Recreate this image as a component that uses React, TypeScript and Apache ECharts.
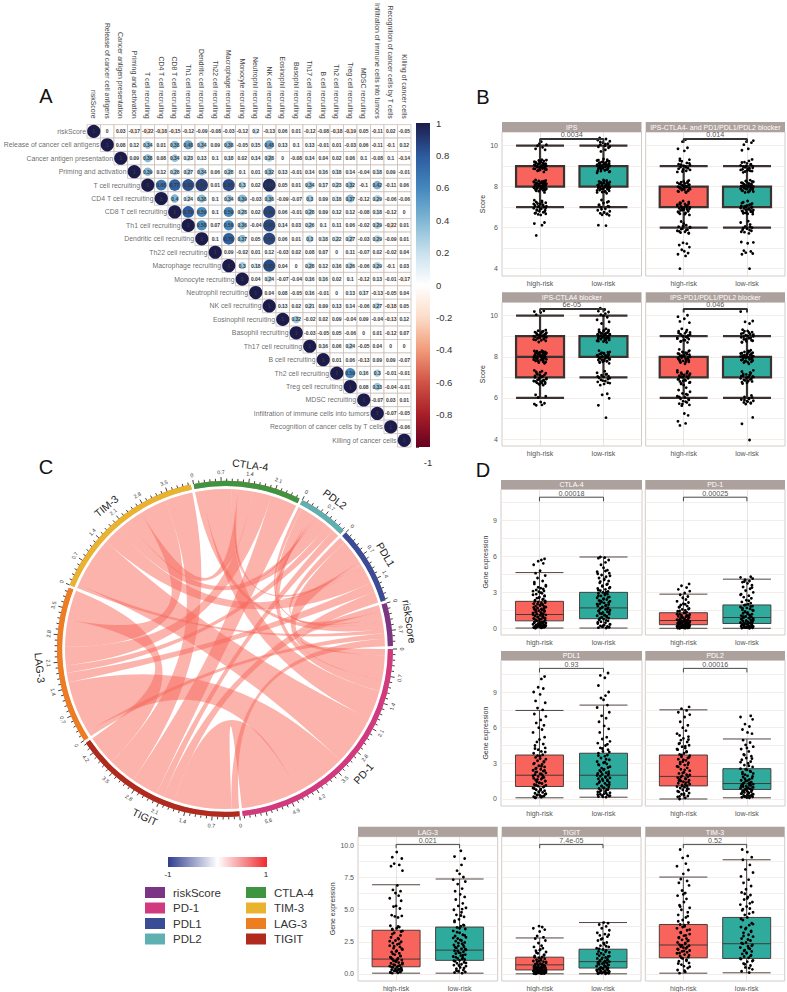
import React, { useEffect, useRef } from "react";
import * as echarts from "echarts";

const FONT = "Liberation Sans";

// ---------- Panel A ----------
const corrLabels = ["riskScore","Release of cancer cell antigens","Cancer antigen presentation","Priming and activation","T cell recruiting","CD4 T cell recruiting","CD8 T cell recruiting","Th1 cell recruiting","Dendritic cell recruiting","Th22 cell recruiting","Macrophage recruiting","Monocyte recruiting","Neutrophil recruiting","NK cell recruiting","Eosinophil recruiting","Basophil recruiting","Th17 cell recruiting","B cell recruiting","Th2 cell recruiting","Treg cell recruiting","MDSC recruiting","Infiltration of immune cells into tumors","Recognition of cancer cells by T cells","Killing of cancer cells"];
const corrRows: number[][] = [
  [1,0,0.03,-0.17,-0.22,-0.18,-0.15,-0.12,-0.09,-0.08,-0.03,-0.12,0.2,-0.13,0.06,0.01,-0.12,-0.08,-0.18,-0.19,0.05,-0.11,0.02,-0.05],
  [1,0.08,0.12,0.34,0.01,0.38,0.48,0.34,0.09,0.38,-0.05,0.15,0.48,0.13,0.1,0.13,-0.01,0.01,-0.03,0.06,-0.11,-0.1,0.12],
  [1,0.09,0.38,0.08,0.34,0.23,0.13,0.1,0.18,0.02,0.14,0.28,0,-0.08,0.14,0.04,0.02,0.06,0.1,-0.08,0.1,-0.14],
  [1,0.39,0.12,0.28,0.27,0.34,0.06,0.28,0.1,0.01,0.32,0.13,-0.01,0.14,0.16,0.18,0.14,-0.04,0.18,0.09,-0.01],
  [1,0.68,0.77,0.83,0.89,0.01,0.85,0.3,0.02,0.95,0.05,0.01,0.34,0.17,0.23,0.32,-0.1,0.42,-0.11,0.06],
  [1,0.4,0.24,0.38,0.1,0.34,0.39,-0.03,0.36,-0.09,-0.07,0.3,0.09,0.18,0.37,-0.12,0.29,-0.06,-0.06],
  [1,0.79,0.59,0.1,0.59,0.28,0.02,0.86,0.06,-0.01,0.28,0.09,0.12,0.12,-0.08,0.18,-0.12,0],
  [1,0.58,0.07,0.59,0.36,-0.04,0.86,0.14,0.03,0.26,0.1,0.11,0.06,-0.02,0.29,-0.22,0.01],
  [1,0.1,0.78,0.37,0.05,0.86,0.06,0.01,0.3,0.18,0.22,0.27,-0.03,0.29,-0.09,0.01],
  [1,0.09,-0.02,0.01,0.12,-0.03,0.02,0.08,0.07,0,0.11,-0.07,0.02,-0.02,0.04],
  [1,0.3,0.18,0.85,0.04,0,0.28,0.12,0.16,0.26,-0.06,0.29,-0.1,0.03],
  [1,0.04,0.24,-0.07,-0.04,0.16,0.16,0.02,0.1,-0.12,0.13,-0.01,-0.17],
  [1,0.04,0.08,-0.05,0.16,-0.01,0,0.13,0.17,-0.13,-0.05,0.04],
  [1,0.13,0.02,0.21,0.09,0.13,0.14,-0.06,0.27,-0.18,0.05],
  [1,0.32,-0.02,0.02,0.09,-0.04,0.09,-0.04,-0.13,0.12],
  [1,-0.03,-0.05,0.05,-0.06,0,0.01,-0.12,0.07],
  [1,0.16,0.06,0.24,-0.05,0.04,0,0],
  [1,0.01,0.06,-0.13,0.09,0.09,-0.07],
  [1,0.59,0.16,0.3,-0.01,-0.01],
  [1,0.08,0.33,-0.04,-0.01],
  [1,-0.07,0.03,0.01],
  [1,-0.07,-0.05],
  [1,-0.06],
  [1],
];
const corrStops: [number, number[]][] = [
  [-1,[103,0,31]],[-0.8,[168,30,40]],[-0.6,[208,84,70]],[-0.4,[241,155,122]],[-0.2,[252,220,200]],[0,[255,255,255]],
  [0.2,[200,225,237]],[0.4,[128,182,212]],[0.6,[68,135,190]],[0.8,[44,90,158]],[1,[28,28,76]],
];
function corrColor(v: number) {
  for (let i = 1; i < corrStops.length; i++) {
    if (v <= corrStops[i][0]) {
      const [a, ca] = corrStops[i - 1], [b, cb] = corrStops[i];
      const t = (v - a) / (b - a);
      return `rgb(${ca.map((c, k) => Math.round(c + (cb[k] - c) * t)).join(",")})`;
    }
  }
  return "rgb(28,28,76)";
}

// ---------- Panel C ----------
const chordNodes = ["PD-1","TIGIT","LAG-3","TIM-3","CTLA-4","PDL2","PDL1","riskScore"];
const chordColors = ["#d23a80","#b02a1e","#ee7d22","#e8b32f","#3f9440","#5fb0b0","#3a4c96","#7b3585"];
const chordLinks: [string, string, number][] = [
  ["riskScore","PD-1",0.18],["riskScore","PDL1",0.17],["riskScore","PDL2",0.1],["riskScore","CTLA-4",0.2],["riskScore","TIM-3",0.1],["riskScore","LAG-3",0.15],["riskScore","TIGIT",0.2],
  ["PD-1","PDL1",0.65],["PD-1","PDL2",0.3],["PD-1","CTLA-4",0.77],["PD-1","TIM-3",1.35],["PD-1","LAG-3",1.4],["PD-1","TIGIT",1.55],
  ["PDL1","PDL2",0.08],["PDL1","CTLA-4",0.1],["PDL1","TIM-3",0.45],["PDL1","LAG-3",0.25],["PDL1","TIGIT",0.3],
  ["PDL2","CTLA-4",0.07],["PDL2","TIM-3",0.35],["PDL2","LAG-3",0.2],["PDL2","TIGIT",0.2],
  ["CTLA-4","TIM-3",0.4],["CTLA-4","LAG-3",0.5],["CTLA-4","TIGIT",0.71],
  ["TIM-3","LAG-3",0.72],["TIM-3","TIGIT",0.75],["LAG-3","TIGIT",0.8],
];
const legendRows = [["riskScore","#7b3585"],["PD-1","#d23a80"],["PDL1","#3a4c96"],["PDL2","#5fb0b0"],["CTLA-4","#3f9440"],["TIM-3","#e8b32f"],["LAG-3","#ee7d22"],["TIGIT","#b02a1e"]];

// ---------- Jitter offsets, read loosely from the clouds ----------
const jitterA = [-0.06,0.03,-0.09,0.07,0.01,-0.03,0.09,-0.07,0.05,-0.01,0.08,-0.05,0.02,-0.1,0.06,-0.02,0.1,-0.08,0.04,0,-0.04,0.09,-0.06,0.03,-0.09,0.07,-0.02,0.05,-0.07,0.01,0.1,-0.04,0.06,-0.1,0.02,-0.05,0.08,-0.01,0.04,-0.08,0.07,-0.03,0.1,-0.06,0.01,0.05,-0.09,0.03,-0.02,0.09,-0.07,0.06,-0.04,0,0.08,-0.1,0.04,-0.01,0.07,-0.05,0.02,0.1,-0.08,0.05,-0.03,0.09,-0.06,0.01,-0.09,0.06,-0.02,0.03,0.08,-0.07,0.04,-0.04,0.1,-0.01,0.02,-0.08,0.07,-0.05,0,0.09,-0.03,0.05,-0.1,0.03,-0.06,0.08];
const jitterB = [0.04,-0.08,0.09,-0.02,0.06,-0.05,0.01,0.1,-0.09,0.03,-0.04,0.07,-0.07,0,0.08,-0.03,0.05,-0.1,0.02,0.09,-0.06,-0.01,0.06,-0.08,0.1,0.03,-0.05,0.07,-0.02,-0.09,0.04,0.08,-0.06,0.01,-0.03,0.1,-0.07,0.05,0,-0.1,0.09,-0.04,0.02,0.06,-0.08,-0.01,0.07,-0.05,0.03,-0.09,0.1,-0.02,0.05,-0.06,0.08,0.01,-0.07,0.04,-0.03,0.09,-0.1,0.06,0,-0.04,0.03,0.08,-0.08,0.02,-0.05,0.07,-0.01,0.1,-0.09,0.04,-0.06,0.05,0.01,-0.03,0.09,-0.07,0.06,-0.02,0.03,-0.1,0.08,-0.04,0,0.07,-0.08,0.02];

// ---------- Panel B points ----------
const ipsHigh = [5.62,6.12,6.2,6.25,6.62,6.65,6.68,6.72,6.75,6.8,6.85,6.88,6.92,6.95,7.0,7.02,7.05,7.08,7.12,7.15,7.18,7.22,7.25,7.3,7.34,7.72,7.78,7.82,7.85,7.88,7.9,7.92,7.95,7.97,7.98,8,8.02,8.04,8.06,8.08,8.1,8.12,8.14,8.16,8.18,8.2,8.22,8.25,8.28,8.3,8.33,8.72,8.78,8.82,8.85,8.88,8.9,8.92,8.95,8.97,9,9.02,9.05,9.08,9.1,9.12,9.15,9.18,9.22,9.25,9.28,9.32,9.8,9.85,9.92,10,10.05,10.1,10.2,
  6.7,6.78,6.84,6.9,6.97,7.03,7.1,7.16,7.24,7.8,7.84,7.87,7.91,7.94,7.99,8.01,8.03,8.07,8.09,8.11,8.13,8.17,8.19,8.21,8.24,8.27,8.8,8.84,8.87,8.91,8.94,8.96,8.99,9.01,9.04,9.07,9.09,9.13,9.16,9.2,9.24,9.3];
const ipsLow = [6.1,6.12,6.6,6.63,6.68,6.7,6.74,6.8,6.85,6.92,7,7.05,7.12,7.2,7.28,7.35,7.68,7.72,7.76,7.8,7.84,7.88,7.9,7.93,7.96,7.98,8,8.03,8.05,8.08,8.1,8.13,8.16,8.18,8.2,8.23,8.26,8.3,8.33,8.68,8.72,8.76,8.8,8.84,8.87,8.9,8.92,8.95,8.97,9,9.02,9.04,9.06,9.08,9.1,9.12,9.15,9.18,9.2,9.24,9.28,9.32,9.35,9.72,9.8,9.9,9.95,10,10.05,10.1,10.15,10.22,10.28,10.33,10.38,
  6.66,6.76,6.9,7.02,7.1,7.24,7.74,7.78,7.82,7.86,7.89,7.92,7.95,7.99,8.01,8.04,8.07,8.11,8.14,8.19,8.22,8.27,8.74,8.78,8.82,8.86,8.89,8.93,8.96,8.99,9.01,9.03,9.07,9.11,9.14,9.17,9.22,9.26,9.3,9.96,10.08,10.18];
const dualHigh = [4,4.62,4.7,4.76,4.85,4.92,5.05,5.15,5.22,5.26,5.72,5.76,5.8,5.85,5.9,5.95,6,6.05,6.12,6.2,6.3,6.62,6.68,6.72,6.78,6.82,6.86,6.9,6.94,6.98,7,7.04,7.08,7.12,7.16,7.2,7.25,7.3,7.72,7.76,7.8,7.84,7.88,7.92,7.95,7.98,8,8.03,8.06,8.1,8.14,8.18,8.22,8.26,8.3,8.72,8.78,8.84,8.9,8.96,9,9.05,9.1,9.16,9.24,9.32,9.36,9.75,9.85,9.9,10.2,10.3,
  5.74,5.82,5.88,5.93,6.03,6.08,6.66,6.74,6.8,6.84,6.88,6.92,6.96,7.02,7.06,7.1,7.14,7.18,7.22,7.74,7.78,7.82,7.86,7.9,7.94,7.97,8.01,8.05,8.08,8.12,8.16,8.2,8.24,8.74,8.82,8.88,8.94,9.02,9.08,9.14,9.28];
const dualLow = [4,4.7,4.74,4.78,4.84,4.88,5.24,5.28,5.3,5.72,5.78,5.85,5.9,5.95,6,6.06,6.15,6.25,6.32,6.66,6.7,6.74,6.78,6.82,6.86,6.9,6.94,6.98,7.02,7.06,7.12,7.18,7.24,7.3,7.72,7.76,7.8,7.84,7.88,7.9,7.93,7.96,7.98,8,8.02,8.05,8.08,8.12,8.16,8.2,8.24,8.28,8.32,8.7,8.76,8.8,8.85,8.9,8.95,9,9.04,9.08,9.14,9.2,9.26,9.33,9.78,9.85,10.05,10.15,10.2,10.25,
  5.8,5.88,5.98,6.04,6.68,6.72,6.76,6.8,6.84,6.88,6.92,6.96,7,7.04,7.08,7.14,7.2,7.74,7.78,7.82,7.86,7.89,7.92,7.95,7.99,8.01,8.03,8.06,8.1,8.14,8.18,8.22,8.26,8.74,8.78,8.82,8.88,8.92,8.98,9.02,9.1,9.18];
const ctlaBlockHigh = [5.64,5.66,5.7,5.74,5.8,6.02,6.08,6.15,6.62,6.66,6.7,6.74,6.78,6.82,6.86,6.9,6.95,7,7.05,7.1,7.14,7.2,7.26,7.3,7.34,7.68,7.72,7.76,7.8,7.84,7.88,7.9,7.93,7.96,7.98,8,8.02,8.04,8.07,8.1,8.12,8.15,8.18,8.2,8.22,8.25,8.28,8.3,8.72,8.78,8.82,8.86,8.9,8.93,8.96,9,9.02,9.05,9.08,9.1,9.14,9.17,9.2,9.24,9.27,9.3,10.05,10.15,10.2,10.24,
  6.68,6.72,6.76,6.8,6.84,6.88,6.92,6.97,7.02,7.07,7.12,7.18,7.24,7.74,7.78,7.82,7.86,7.89,7.92,7.95,7.99,8.01,8.03,8.05,8.08,8.11,8.14,8.17,8.19,8.21,8.24,8.27,8.8,8.84,8.88,8.92,8.95,8.98,9.01,9.04,9.07,9.12,9.16,9.22];
const ctlaBlockLow = [5.04,5.64,5.98,6.15,6.2,6.62,6.68,6.72,6.78,6.82,6.88,6.92,6.98,7.02,7.06,7.1,7.16,7.22,7.3,7.68,7.72,7.76,7.8,7.84,7.88,7.92,7.95,7.98,8,8.03,8.06,8.1,8.13,8.16,8.2,8.24,8.3,8.7,8.74,8.78,8.82,8.86,8.9,8.92,8.95,8.98,9,9.03,9.06,9.08,9.1,9.13,9.16,9.2,9.24,9.28,9.32,9.36,9.62,9.7,9.8,9.92,10,10.05,10.1,10.18,10.22,10.3,10.36,
  6.74,6.84,6.96,7.04,7.14,7.74,7.78,7.82,7.86,7.9,7.94,7.97,8.01,8.04,8.08,8.12,8.15,8.18,8.22,8.76,8.8,8.84,8.88,8.91,8.94,8.97,9.01,9.04,9.07,9.09,9.12,9.15,9.18,9.22,9.26,9.3];
const pdBlockHigh = [4.66,4.76,4.86,5.15,5.24,5.62,5.66,5.72,5.78,5.84,5.9,5.96,6.02,6.08,6.15,6.22,6.3,6.38,6.5,6.62,6.68,6.74,6.8,6.85,6.9,6.95,7,7.04,7.08,7.12,7.18,7.22,7.28,7.34,7.66,7.72,7.76,7.8,7.84,7.88,7.92,7.96,8,8.04,8.08,8.12,8.16,8.2,8.24,8.3,8.36,8.7,8.76,8.82,8.86,8.92,8.96,9,9.04,9.1,9.14,9.18,9.24,9.3,9.36,9.66,9.72,9.85,9.95,10.02,
  5.7,5.82,5.94,6.05,6.18,6.7,6.76,6.82,6.88,6.92,6.98,7.02,7.06,7.1,7.15,7.2,7.25,7.74,7.78,7.82,7.86,7.9,7.94,7.98,8.02,8.06,8.1,8.14,8.18,8.22,8.27,8.74,8.8,8.88,8.94,9.02,9.08,9.16,9.22];
const pdBlockLow = [3.95,4.74,5.05,5.7,5.74,5.78,5.82,5.86,5.92,5.98,6.05,6.12,6.7,6.74,6.8,6.85,6.9,6.95,7,7.04,7.08,7.14,7.2,7.28,7.34,7.66,7.72,7.76,7.8,7.84,7.88,7.92,7.95,7.98,8,8.03,8.06,8.1,8.13,8.16,8.2,8.24,8.28,8.32,8.7,8.75,8.8,8.85,8.9,8.95,9,9.05,9.1,9.15,9.2,9.26,9.32,9.62,9.7,9.74,10.2,
  5.76,5.84,5.9,5.95,6.02,6.76,6.82,6.88,6.93,6.98,7.02,7.06,7.1,7.16,7.24,7.74,7.78,7.82,7.86,7.9,7.94,7.97,8.01,8.04,8.08,8.11,8.15,8.18,8.22,8.26,8.72,8.78,8.84,8.92,8.98,9.03,9.08,9.12,9.18,9.24];

// ---------- Panel D points ----------
const ctla4High = [0.02,0.04,0.06,0.08,0.1,0.12,0.14,0.16,0.2,0.22,0.25,0.28,0.3,0.34,0.38,0.4,0.45,0.5,0.52,0.58,0.62,0.68,0.72,0.78,0.82,0.88,0.92,0.98,1.02,1.08,1.12,1.18,1.22,1.28,1.32,1.38,1.42,1.48,1.52,1.58,1.65,1.7,1.78,1.85,1.9,1.98,2.05,2.12,2.2,2.28,2.35,2.45,2.52,2.6,2.72,2.8,2.92,3.05,3.12,3.2,3.35,3.5,3.7,3.95,4.2,4.4,4.6,4.8,5.3,5.42,5.6,5.7,5.8,
  0.03,0.09,0.15,0.24,0.32,0.42,0.48,0.55,0.65,0.75,0.85,0.95,1.05,1.15,1.25,1.35,1.45,1.55,1.62,1.74,1.82,1.95,2.02,2.15,2.25,2.4,2.55,2.68,2.85,2.98,3.1,3.28,3.42,3.6,3.85];
const ctla4Low = [0.02,0.05,0.08,0.12,0.16,0.2,0.26,0.32,0.4,0.46,0.55,0.62,0.7,0.78,0.85,0.92,1.0,1.05,1.12,1.18,1.25,1.32,1.38,1.45,1.52,1.58,1.65,1.72,1.78,1.85,1.92,1.98,2.05,2.12,2.18,2.25,2.32,2.4,2.48,2.55,2.62,2.7,2.78,2.85,2.92,3.0,3.08,3.15,3.25,3.32,3.42,3.55,3.65,3.8,3.95,4.05,4.2,4.3,4.45,4.6,4.72,4.85,5.05,5.3,5.5,5.7,5.85,5.9,5.95,
  0.1,0.22,0.35,0.5,0.66,0.82,0.95,1.08,1.22,1.35,1.48,1.6,1.75,1.88,2.02,2.15,2.28,2.42,2.58,2.72,2.88,3.02,3.18,3.35,3.5,3.7,3.9,4.12,4.38,4.55,4.78];
const pd1High = [0,0.01,0.02,0.03,0.04,0.05,0.06,0.08,0.09,0.1,0.12,0.14,0.15,0.17,0.19,0.2,0.22,0.25,0.27,0.3,0.32,0.35,0.38,0.4,0.42,0.45,0.48,0.5,0.54,0.58,0.6,0.64,0.68,0.72,0.76,0.8,0.85,0.9,0.95,1,1.05,1.1,1.15,1.2,1.28,1.35,1.42,1.5,1.58,1.65,1.75,1.85,1.95,2.05,2.15,2.25,2.4,2.55,2.65,2.8,2.95,3.1,3.25,3.4,3.55,3.7,
  0.03,0.07,0.11,0.16,0.21,0.26,0.31,0.36,0.41,0.46,0.52,0.56,0.62,0.66,0.7,0.78,0.83,0.92,0.98,1.08,1.18,1.3,1.45,1.6,1.8,2];
const pd1Low = [0,0.02,0.04,0.06,0.08,0.1,0.12,0.15,0.18,0.2,0.23,0.26,0.3,0.33,0.36,0.4,0.44,0.48,0.52,0.56,0.6,0.65,0.7,0.75,0.8,0.85,0.9,0.95,1,1.06,1.12,1.18,1.25,1.32,1.4,1.48,1.55,1.62,1.7,1.78,1.85,1.92,2,2.1,2.2,2.35,2.5,2.6,2.72,2.85,3,3.15,3.3,3.45,3.6,3.75,3.85,3.95,4.05,4.15,4.25,4.3,
  0.05,0.09,0.14,0.22,0.28,0.35,0.42,0.5,0.58,0.68,0.78,0.88,0.98,1.08,1.2,1.35,1.52,1.68,1.82,1.96,2.3,2.8,3.4,3.9];
const pdl1High = [0.1,0.15,0.2,0.25,0.3,0.35,0.4,0.48,0.55,0.62,0.7,0.78,0.85,0.92,1,1.08,1.15,1.22,1.3,1.38,1.45,1.52,1.6,1.68,1.75,1.82,1.9,1.98,2.05,2.12,2.2,2.28,2.35,2.42,2.5,2.6,2.7,2.8,2.9,3,3.1,3.22,3.35,3.5,3.6,3.72,3.85,4,4.15,4.3,4.5,4.62,4.8,5,5.2,5.6,5.85,6,6.2,6.4,6.65,6.95,7.15,7.5,7.65,8.1,8.25,8.8,9,9.3,9.4,10.1,10.3,
  0.12,0.22,0.32,0.44,0.58,0.74,0.88,1.04,1.18,1.35,1.5,1.65,1.8,1.95,2.1,2.25,2.4,2.55,2.75,2.95,3.15,3.4,3.65,3.95,4.25];
const pdl1Low = [0.15,0.2,0.25,0.3,0.35,0.4,0.45,0.52,0.6,0.66,0.72,0.8,0.88,0.95,1.02,1.1,1.18,1.25,1.32,1.4,1.48,1.55,1.62,1.7,1.78,1.85,1.92,2,2.08,2.15,2.22,2.3,2.4,2.5,2.6,2.72,2.85,2.95,3.05,3.15,3.3,3.45,3.6,3.7,3.85,4,4.15,4.3,4.5,4.7,4.85,5.05,5.2,5.6,5.9,6.15,6.5,6.8,7,7.3,7.7,7.9,8.35,8.5,8.7,9,9.55,10.2,10.4,10.6,
  0.18,0.28,0.38,0.5,0.62,0.78,0.92,1.08,1.22,1.38,1.52,1.68,1.82,1.98,2.12,2.28,2.45,2.65,2.9,3.1,3.35,3.65,3.95,4.25,4.6];
const pdl2High = [0,0.1,0.18,0.25,0.32,0.4,0.5,0.6,0.7,0.78,0.85,0.92,1,1.05,1.12,1.18,1.25,1.32,1.38,1.45,1.52,1.58,1.65,1.72,1.8,1.88,1.95,2.05,2.15,2.25,2.38,2.5,2.62,2.75,2.85,2.95,3.05,3.15,3.25,3.35,3.45,3.55,3.65,3.75,3.85,4,4.15,4.28,4.4,4.52,4.65,4.8,4.95,5.1,5.25,5.5,5.75,6,6.2,6.5,6.9,7.1,7.3,7.45,7.6,7.75,
  0.22,0.45,0.65,0.88,1.08,1.22,1.42,1.55,1.68,1.85,2.02,2.2,2.45,2.7,2.9,3.1,3.3,3.5,3.7,3.95,4.2,4.45,4.7,5,5.35];
const pdl2Low = [0.1,0.14,0.18,0.22,0.26,0.3,0.35,0.4,0.45,0.5,0.55,0.6,0.65,0.7,0.75,0.8,0.85,0.9,0.95,1,1.05,1.1,1.15,1.2,1.25,1.3,1.35,1.42,1.5,1.58,1.65,1.75,1.85,1.95,2.05,2.15,2.25,2.35,2.45,2.55,2.7,2.85,3,3.15,3.3,3.45,3.6,3.75,4,4.2,4.4,4.55,4.75,4.95,5.5,5.6,5.85,6.1,6.3,6.7,6.9,7,
  0.12,0.2,0.28,0.37,0.47,0.57,0.68,0.78,0.88,0.98,1.08,1.18,1.28,1.38,1.55,1.7,1.9,2.1,2.3,2.5,2.8,3.1,3.4,3.7,4.3];
const lag3High = [0.05,0.08,0.12,0.16,0.2,0.24,0.28,0.32,0.36,0.4,0.45,0.5,0.55,0.6,0.65,0.7,0.76,0.82,0.88,0.95,1.02,1.08,1.15,1.22,1.3,1.4,1.5,1.6,1.7,1.8,1.9,2,2.1,2.2,2.3,2.4,2.5,2.6,2.72,2.85,3,3.2,3.35,3.45,3.55,3.65,3.75,4.4,4.48,4.52,4.58,5.1,5.25,5.3,5.7,5.9,6.1,6.3,6.45,6.55,6.9,8.05,8.4,8.5,8.6,9,9.1,9.5,
  0.1,0.18,0.26,0.34,0.42,0.52,0.62,0.72,0.85,1,1.12,1.25,1.38,1.55,1.75,1.95,2.15,2.35,2.55,2.78,3.1,3.3,3.5,3.7];
const lag3Low = [0.05,0.1,0.15,0.2,0.3,0.4,0.5,0.6,0.68,0.75,0.82,0.9,0.98,1.05,1.12,1.2,1.28,1.35,1.42,1.5,1.58,1.65,1.72,1.8,1.88,1.95,2.02,2.1,2.18,2.25,2.35,2.45,2.55,2.65,2.75,2.85,2.95,3.05,3.2,3.35,3.5,3.62,3.72,3.82,4.05,4.25,4.45,4.6,4.8,5,5.15,5.3,5.5,5.8,6,6.2,6.45,6.65,7,7.2,7.35,7.55,7.8,8.05,8.5,9,9.15,9.6,
  0.25,0.45,0.65,0.85,1.02,1.16,1.3,1.46,1.62,1.78,1.92,2.08,2.22,2.4,2.6,2.8,3,3.25,3.55,3.78,4.15,4.55,5.05];
const tigitHigh = [0,0.01,0.02,0.04,0.05,0.07,0.09,0.1,0.12,0.14,0.16,0.18,0.2,0.22,0.25,0.28,0.3,0.33,0.36,0.4,0.44,0.48,0.52,0.56,0.6,0.64,0.68,0.72,0.76,0.8,0.85,0.9,0.95,1,1.05,1.1,1.18,1.25,1.32,1.4,1.5,1.6,1.7,1.8,1.9,2,2.1,2.2,2.4,2.6,2.75,2.85,2.95,3.3,3.45,3.55,3.65,3.72,
  0.03,0.06,0.11,0.15,0.19,0.24,0.29,0.34,0.38,0.42,0.46,0.5,0.54,0.58,0.62,0.66,0.74,0.82,0.92,1.02,1.15,1.3,1.45,1.65,1.85];
const tigitLow = [0,0.02,0.04,0.06,0.08,0.1,0.13,0.16,0.2,0.24,0.28,0.32,0.36,0.4,0.45,0.5,0.55,0.6,0.65,0.7,0.75,0.8,0.85,0.9,0.95,1,1.05,1.1,1.15,1.2,1.28,1.35,1.42,1.5,1.6,1.68,1.75,1.82,1.9,2,2.1,2.2,2.3,2.45,2.6,2.75,2.9,3,3.1,3.2,3.4,3.55,3.7,3.85,3.95,4,
  0.05,0.11,0.18,0.22,0.3,0.38,0.42,0.48,0.58,0.68,0.78,0.88,0.98,1.12,1.25,1.38,1.55,1.72,1.95,2.15,2.4,2.7,3.05];
const tim3High = [0.05,0.15,0.3,0.45,0.6,0.72,0.85,0.98,1.1,1.2,1.3,1.4,1.5,1.6,1.68,1.75,1.82,1.9,1.98,2.05,2.12,2.2,2.28,2.35,2.45,2.55,2.65,2.75,2.85,2.98,3.1,3.25,3.4,3.55,3.7,3.85,4,4.2,4.4,4.6,4.8,5,5.15,5.35,5.6,5.85,6.1,6.3,6.5,6.9,7.1,7.25,7.4,7.8,8.1,8.4,8.6,9.05,9.2,9.7,
  0.25,0.55,0.8,1.02,1.25,1.45,1.62,1.78,1.94,2.08,2.24,2.4,2.6,2.8,3,3.2,3.45,3.65,3.8,4.1,4.5,5.25,6.2];
const tim3Low = [0.1,0.2,0.35,0.5,0.65,0.8,0.95,1.05,1.15,1.25,1.35,1.45,1.55,1.65,1.75,1.85,1.95,2.05,2.15,2.25,2.35,2.45,2.6,2.75,2.9,3.05,3.2,3.35,3.5,3.65,3.8,3.95,4.2,4.4,4.6,4.8,4.95,5.1,5.25,5.4,5.6,5.8,6,6.15,6.35,6.6,6.85,7.1,7.35,7.6,7.9,8.15,8.5,8.9,9.1,9.5,9.7,
  0.45,0.75,1,1.2,1.4,1.6,1.8,2,2.2,2.4,2.68,2.95,3.28,3.58,3.88,4.3,4.7,5.05,5.5,5.9,6.25];

// ---------- Box statistics: min, Q1, median, Q3, max ----------
const panelTitles = ["IPS","IPS-CTLA4- and PD1/PDL1/PDL2 blocker","IPS-CTLA4 blocker","IPS-PD1/PDL1/PDL2 blocker","CTLA-4","PD-1","PDL1","PDL2","LAG-3","TIGIT","TIM-3"];
const pValues = ["0.0034","0.014","6e-05","0.046","0.00018","0.00025","0.93","0.00016","0.021","7.4e-05","0.52"];
const boxStats: number[][][] = [
  [[7,8,8,9,10],[7,8,8,9,10]],
  [[6,7,7,8,9],[6,7,8,8,9]],
  [[6,7,8,9,10],[7,8,8,9,10]],
  [[6,7,8,8,9],[6,7,8,8,9]],
  [[0.02,0.62,1.15,2.25,4.65],[0.02,0.8,1.7,3.0,5.95]],
  [[0,0.3,0.65,1.3,2.85],[0,0.4,0.9,1.95,4.1]],
  [[0.1,1.05,2.0,3.7,7.45],[0.15,0.85,2.0,3.85,7.9]],
  [[0,1.1,1.9,3.7,7.5],[0.1,0.8,1.3,2.55,5.05]],
  [[0.05,0.55,1.15,3.4,6.95],[0.05,1.05,1.85,3.65,7.4]],
  [[0,0.3,0.7,1.3,2.8],[0,0.45,0.95,1.92,4.0]],
  [[0.05,1.25,2.25,3.85,7.55],[0.08,1.2,2.35,4.4,8.9]],
];
const panelPoints = [
  [ipsHigh,ipsLow],[dualHigh,dualLow],[ctlaBlockHigh,ctlaBlockLow],[pdBlockHigh,pdBlockLow],
  [ctla4High,ctla4Low],[pd1High,pd1Low],[pdl1High,pdl1Low],[pdl2High,pdl2Low],
  [lag3High,lag3Low],[tigitHigh,tigitLow],[tim3High,tim3Low],
];
const groupLabels = ["high-risk","low-risk"];
const scoreTicks = [4,6,8,10];
const scoreGrid = [4,5,6,7,8,9,10];
const geneTicks = [0,3,6,9];
const geneGrid = [0,1.5,3,4.5,6,7.5,9,10.5];
const lowTicks = [0,2.5,5,7.5,10];
const lowGrid = [0,1.25,2.5,3.75,5,6.25,7.5,8.75,10];

function buildOption() {
  const grids: any[] = [], xAxes: any[] = [], yAxes: any[] = [], series: any[] = [], graphics: any[] = [];
  const txt = (text: string, x: number, y: number, fontSize: number, fill: string, extra: any = {}) => ({
    type: "text", x, y, z: 20, silent: true, rotation: extra.rotation || 0,
    style: { text, fontSize, fontFamily: FONT, fill, align: extra.align || "center", verticalAlign: "middle" },
  });

  // Panel A
  grids.push({ left: 87, top: 123, width: 324, height: 324 });
  xAxes.push({ type: "category", gridIndex: 0, position: "top", data: corrLabels, axisLine: { show: false }, axisTick: { show: false }, splitLine: { show: false },
    axisLabel: { rotate: 90, interval: 0, margin: 6, fontSize: 6.9, color: "#444", fontFamily: FONT, hideOverlap: false } });
  yAxes.push({ type: "category", gridIndex: 0, inverse: true, data: corrLabels, axisLine: { show: false }, axisTick: { show: false }, axisLabel: { show: false }, splitLine: { show: false } });
  const cells: any[] = [], circles: any[] = [], diag: any[] = [];
  corrRows.forEach((row, r) => row.forEach((v, k) => {
    const c = r + k;
    cells.push([c, r]);
    circles.push({ value: [c, r, v], symbolSize: 13.2 * Math.sqrt(Math.abs(v)), itemStyle: { color: corrColor(v), opacity: 1 } });
    if (k === 0) diag.push({ value: [c, r], label: { formatter: corrLabels[r] } });
  }));
  series.push({ type: "scatter", xAxisIndex: 0, yAxisIndex: 0, silent: true, symbol: "rect", symbolSize: 13.5, data: cells, z: 1,
    itemStyle: { color: "#fff", opacity: 1, borderColor: "#cbbfb9", borderWidth: 0.8 } });
  series.push({ type: "scatter", xAxisIndex: 0, yAxisIndex: 0, silent: true, data: circles, z: 2,
    label: { show: true, position: "inside", fontSize: 5, fontWeight: "bold", color: "#3a3a3a", fontFamily: FONT, formatter: (p: any) => String(p.value[2]) } });
  series.push({ type: "scatter", xAxisIndex: 0, yAxisIndex: 0, silent: true, symbolSize: 13.5, data: diag, z: 2, itemStyle: { color: "transparent" },
    label: { show: true, position: "left", distance: 1, fontSize: 6.9, color: "#444", fontFamily: FONT } });

  // Colour bar
  grids.push({ left: 416, top: 123, width: 14, height: 324 });
  xAxes.push({ type: "value", gridIndex: 1, show: false, min: 0, max: 1 });
  yAxes.push({ type: "value", gridIndex: 1, position: "right", min: -1, max: 1, interval: 0.2, axisLine: { show: false }, splitLine: { show: false },
    axisTick: { show: true, length: 3, inside: false, lineStyle: { color: "#333", width: 0.8 } },
    axisLabel: { margin: 6, fontSize: 9.5, color: "#333", fontFamily: FONT, formatter: (v: number) => (Math.abs(v + 1) < 1e-6 ? "" : String(Math.round(v * 10) / 10)) } });
  graphics.push({ type: "rect", shape: { x: 416, y: 123, width: 14, height: 324 }, z: 3, silent: true,
    style: { fill: new echarts.graphic.LinearGradient(0, 0, 0, 1, corrStops.slice().reverse().map((s) => ({ offset: (1 - s[0]) / 2, color: `rgb(${s[1].join(",")})` }))) } });
  graphics.push(txt("-1", 428, 462, 9.5, "#333"));

  // Box panels
  const specs = [
    { l: 502, w: 139.5, st: 122, sb: 132, b: 276, yMin: 3.64, yMax: 10.67, ticks: scoreTicks, gr: scoreGrid, name: "Score", gap: 11.5, br: [10.33, 10.15], lw: 2.2, showY: true },
    { l: 645.7, w: 139.3, st: 122, sb: 132, b: 276, yMin: 3.64, yMax: 10.67, ticks: scoreTicks, gr: scoreGrid, br: [10.33, 10.15], lw: 2.2 },
    { l: 502, w: 139.5, st: 292.3, sb: 302.3, b: 446, yMin: 3.66, yMax: 10.65, ticks: scoreTicks, gr: scoreGrid, name: "Score", gap: 11.5, br: [10.33, 10.15], lw: 2.2, showY: true },
    { l: 645.7, w: 139.3, st: 292.3, sb: 302.3, b: 446, yMin: 3.66, yMax: 10.65, ticks: scoreTicks, gr: scoreGrid, br: [10.33, 10.15], lw: 2.2 },
    { l: 501, w: 141, st: 480, sb: 489.3, b: 635, yMin: -0.56, yMax: 11.6, ticks: geneTicks, gr: geneGrid, name: "Gene expression", gap: 10.5, br: [10.94, 10.6], lw: 0.9, showY: true },
    { l: 645.3, w: 139.7, st: 480, sb: 489.3, b: 635, yMin: -0.56, yMax: 11.6, ticks: geneTicks, gr: geneGrid, br: [10.94, 10.6], lw: 0.9 },
    { l: 501, w: 141, st: 651, sb: 660.3, b: 806, yMin: -0.59, yMax: 11.67, ticks: geneTicks, gr: geneGrid, name: "Gene expression", gap: 10.5, br: [10.99, 10.65], lw: 0.9, showY: true },
    { l: 645.3, w: 139.7, st: 651, sb: 660.3, b: 806, yMin: -0.59, yMax: 11.67, ticks: geneTicks, gr: geneGrid, br: [10.99, 10.65], lw: 0.9 },
    { l: 358, w: 139.7, st: 826.7, sb: 836.7, b: 982.3, yMin: -0.56, yMax: 10.7, ticks: lowTicks, gr: lowGrid, name: "Gene expression", gap: 17.5, br: [10.1, 9.8], lw: 0.9, showY: true, dec: 1 },
    { l: 501.7, w: 139.3, st: 826.7, sb: 836.7, b: 982.3, yMin: -0.56, yMax: 10.7, ticks: lowTicks, gr: lowGrid, br: [10.1, 9.8], lw: 0.9 },
    { l: 645.3, w: 139.4, st: 826.7, sb: 836.7, b: 982.3, yMin: -0.56, yMax: 10.7, ticks: lowTicks, gr: lowGrid, br: [10.1, 9.8], lw: 0.9 },
  ];
  specs.forEach((s: any, i) => {
    const gi = grids.length;
    grids.push({ left: s.l, top: s.sb, width: s.w, height: s.b - s.sb, show: true, backgroundColor: "#fff", borderColor: "#d2ccc9", borderWidth: 1 });
    xAxes.push({ type: "value", gridIndex: gi, min: 0.4, max: 2.6, axisLine: { show: false },
      axisTick: { show: false, customValues: [1, 2] },
      splitLine: { show: true, lineStyle: { color: "#dcd8d6", width: 0.7 } },
      axisLabel: { customValues: [1, 2], margin: 4, fontSize: 7, color: "#555", fontFamily: FONT, formatter: (v: number) => groupLabels[Math.round(v) - 1] } });
    yAxes.push({ type: "value", gridIndex: gi, min: s.yMin, max: s.yMax, axisLine: { show: false },
      axisTick: { show: false, customValues: s.gr },
      splitLine: { show: true, lineStyle: { color: "#efe6e2", width: 0.7 } },
      name: s.name, nameLocation: "middle", nameGap: s.gap, nameTextStyle: { fontSize: 7, color: "#333", fontFamily: FONT },
      axisLabel: { show: !!s.showY, customValues: s.ticks, margin: 4, fontSize: 7, color: "#555", fontFamily: FONT, formatter: (v: number) => (s.dec ? v.toFixed(1) : String(v)) } });
    series.push({ type: "boxplot", xAxisIndex: gi, yAxisIndex: gi, silent: true, boxWidth: [48, 48], z: 2,
      data: boxStats[i].map((st, k) => ({ value: [k + 1, ...st], itemStyle: { color: k === 0 ? "#f8635b" : "#2fab9e", borderColor: "#3b3230", borderWidth: s.lw } })) });
    const pts: number[][] = [];
    panelPoints[i][0].forEach((v, k) => pts.push([1 + jitterA[k % jitterA.length], v]));
    panelPoints[i][1].forEach((v, k) => pts.push([2 + jitterB[k % jitterB.length], v]));
    series.push({ type: "scatter", xAxisIndex: gi, yAxisIndex: gi, silent: true, symbolSize: 2.8, z: 3, data: pts, itemStyle: { color: "#000", opacity: 1 } });
    series.push({ type: "line", xAxisIndex: gi, yAxisIndex: gi, silent: true, symbol: "none", z: 4, lineStyle: { color: "#333", width: s.lw === 0.9 ? 0.9 : 2 },
      data: [[1, s.br[1]], [1, s.br[0]], [2, s.br[0]], [2, s.br[1]]] });
    series.push({ type: "scatter", xAxisIndex: gi, yAxisIndex: gi, silent: true, symbolSize: 1, z: 5, itemStyle: { color: "transparent" }, data: [[1.5, s.br[0]]],
      label: { show: true, position: "top", distance: 0, fontSize: 7.2, color: "#222", fontFamily: FONT, formatter: pValues[i] } });
    graphics.push({ type: "rect", shape: { x: s.l, y: s.st, width: s.w, height: s.sb - s.st }, z: 10, silent: true, style: { fill: "#aca19d" } });
    graphics.push(txt(panelTitles[i], s.l + s.w / 2, (s.st + s.sb) / 2 + 0.3, 7, "#fff"));
  });

  // Panel C
  const CX = 225, CY = 649, R0 = 163, R1 = 168, PAD = 1;
  const totals = chordNodes.map((n) => chordLinks.reduce((t, l) => t + (l[0] === n || l[1] === n ? l[2] : 0), 0));
  const sum = totals.reduce((a, b) => a + b, 0);
  const unit = (360 - PAD * chordNodes.length) / sum;
  series.push({ type: "chord", center: [CX, CY], radius: [R0, R1], startAngle: 0, clockwise: true, padAngle: PAD, minAngle: 0, silent: true, z: 2,
    label: { show: false }, lineStyle: { color: "source", opacity: 0.5 }, emphasis: { disabled: true },
    data: chordNodes.map((name) => ({ name, itemStyle: { color: "#f8685a" } })),
    links: chordLinks.map(([source, target, value]) => ({ source, target, value })) });
  graphics.push({ type: "ring", shape: { cx: CX, cy: CY, r: R0, r0: R0 - 3 }, z: 5, silent: true, style: { fill: "#fff" } });
  const starts: number[] = [];
  totals.reduce((acc, t, i) => { starts[i] = acc; return acc + t * unit + PAD; }, 0);
  series.push({ type: "custom", coordinateSystem: "none", silent: true, z: 6, data: chordNodes.map((_, i) => [i]),
    renderItem: (_: any, api: any) => {
      const i = api.value(0);
      return { type: "sector", shape: { cx: CX, cy: CY, r0: R0 - 0.2, r: R1, startAngle: starts[i] * Math.PI / 180, endAngle: (starts[i] + totals[i] * unit) * Math.PI / 180, clockwise: true }, style: { fill: chordColors[i] } };
    } });
  const tickData: number[][] = [];
  totals.forEach((t, i) => { for (let k = 0; k * 0.14 <= t + 1e-6; k++) tickData.push([i, k]); });
  const tangent = (deg: number) => { const a = ((deg % 360) + 360) % 360; return -(a < 180 ? a - 90 : a - 270) * Math.PI / 180; };
  series.push({ type: "custom", coordinateSystem: "none", silent: true, z: 6, data: tickData,
    renderItem: (_: any, api: any) => {
      const i = api.value(0), k = api.value(1);
      const deg = starts[i] + k * 0.14 * unit;
      const a = deg * Math.PI / 180, cos = Math.cos(a), sin = Math.sin(a);
      const major = k % 5 === 0;
      const children: any[] = [{ type: "line", shape: { x1: CX + R1 * cos, y1: CY + R1 * sin, x2: CX + (R1 + (major ? 4 : 2.5)) * cos, y2: CY + (R1 + (major ? 4 : 2.5)) * sin }, style: { stroke: "#111", lineWidth: 0.8 } }];
      if (major) children.push({ type: "text", x: CX + 177 * cos, y: CY + 177 * sin, rotation: tangent(deg),
        style: { text: String(Math.round(k * 0.14 * 10) / 10), fontSize: 5.4, fontFamily: FONT, fill: "#333", align: "center", verticalAlign: "middle" } });
      return { type: "group", children };
    } });
  chordNodes.forEach((n, i) => {
    const deg = starts[i] + (totals[i] * unit) / 2;
    const a = deg * Math.PI / 180;
    graphics.push(txt(n, CX + 186 * Math.cos(a), CY + 186 * Math.sin(a), 10.5, "#222", { rotation: tangent(deg) }));
  });

  // Chord legend
  graphics.push({ type: "rect", shape: { x: 168, y: 857, width: 99, height: 10 }, silent: true, z: 10,
    style: { fill: new echarts.graphic.LinearGradient(0, 0, 1, 0, [{ offset: 0, color: "#2f3d8f" }, { offset: 0.5, color: "#ffffff" }, { offset: 1, color: "#ee2a2e" }]) } });
  graphics.push(txt("-1", 168, 874, 8, "#222"), txt("1", 266, 874, 8, "#222"));
  legendRows.forEach(([name, color], i) => {
    const col = i < 4 ? 0 : 1, row = i % 4;
    const x = col === 0 ? 145 : 246, y = 887 + row * 15.5;
    graphics.push({ type: "rect", shape: { x, y, width: 20, height: 11 }, silent: true, z: 10, style: { fill: color } });
    graphics.push(txt(name, x + 28, y + 5.5, 11.5, "#333", { align: "left" }));
  });

  // Panel letters
  graphics.push(txt("A", 46, 96, 20, "#111"), txt("B", 483, 97, 20, "#111"), txt("C", 46, 467, 20, "#111"), txt("D", 483, 470, 20, "#111"));

  return {
    animation: false, backgroundColor: "#fff", textStyle: { fontFamily: FONT },
    grid: grids, xAxis: xAxes, yAxis: yAxes, series, graphic: { elements: graphics },
  };
}

export default function App() {
  const ref = useRef<HTMLDivElement>(null);
  useEffect(() => {
    const chart = echarts.init(ref.current!, null, { renderer: "svg" });
    chart.setOption(buildOption() as any);
    return () => chart.dispose();
  }, []);
  return <div ref={ref} style={{ position: "absolute", left: 0, top: 0, width: 787, height: 992 }} />;
}
